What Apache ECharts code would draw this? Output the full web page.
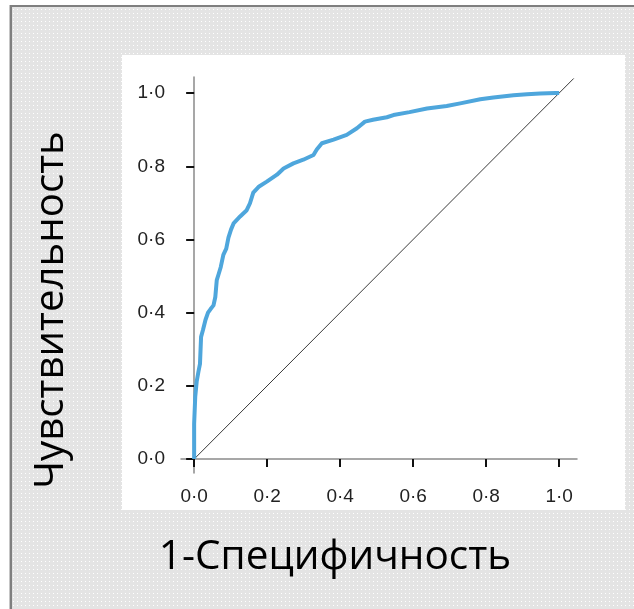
<!DOCTYPE html>
<html>
<head>
<meta charset="utf-8">
<script src="https://cdn.jsdelivr.net/npm/echarts@6/dist/echarts.min.js"></script>
<style>
html,body{margin:0;padding:0;background:#fff;}
#c{width:634px;height:609px;}
</style>
</head>
<body>
<div id="c"></div>
<script>
// ---- data ----
const fpr = [0, 0, 0.003, 0.007, 0.012, 0.016, 0.019, 0.024, 0.031, 0.038, 0.045, 0.053, 0.058, 0.062, 0.067, 0.073, 0.080, 0.088, 0.094, 0.101, 0.108, 0.126, 0.144, 0.153, 0.162, 0.178, 0.199, 0.227, 0.245, 0.272, 0.299, 0.327, 0.336, 0.350, 0.382, 0.418, 0.446, 0.468, 0.490, 0.528, 0.546, 0.590, 0.638, 0.692, 0.729, 0.784, 0.820, 0.875, 0.912, 0.948, 0.990, 1.0];
const tpr = [0, 0.097, 0.170, 0.212, 0.240, 0.260, 0.334, 0.352, 0.380, 0.400, 0.410, 0.420, 0.443, 0.489, 0.505, 0.525, 0.558, 0.575, 0.605, 0.627, 0.644, 0.663, 0.680, 0.699, 0.728, 0.745, 0.758, 0.777, 0.794, 0.808, 0.818, 0.831, 0.846, 0.863, 0.873, 0.886, 0.904, 0.922, 0.927, 0.934, 0.940, 0.948, 0.958, 0.965, 0.972, 0.983, 0.988, 0.994, 0.997, 0.999, 1.0, 1.0];
const refX = [0, 1.04];
const refY = [0, 1.04];
const tickValues = [0, 0.2, 0.4, 0.6, 0.8, 1.0];
const xTitle = '1-Специфичность';
const yTitle = 'Чувствительность';

// ---- helpers ----
function fmt(v){ return v.toFixed(1).replace('.', '\u00B7'); }
const titleFamily = '"Open Sans", "Noto Sans", sans-serif';
function fitSize(text, targetW){
  const cv = document.createElement('canvas');
  const ctx = cv.getContext('2d');
  ctx.font = '100px ' + titleFamily;
  return Math.round(100 * targetW / ctx.measureText(text).width * 10) / 10;
}
function makePattern(){
  const cv = document.createElement('canvas');
  cv.width = 4; cv.height = 4;
  const ctx = cv.getContext('2d');
  ctx.fillStyle = '#e4e4e4';
  ctx.fillRect(0,0,4,4);
  ctx.fillStyle = '#ffffff';
  ctx.fillRect(1,1,1,1);
  return cv;
}

const chart = echarts.init(document.getElementById('c'), null, {renderer:'canvas'});
const pattern = makePattern();
const ySize = fitSize(yTitle, 358);
const xSize = fitSize(xTitle, 352);
const labelFont = '"Liberation Sans", Arial, sans-serif';

const option = {
  backgroundColor: '#ffffff',
  animation: false,
  graphic: { elements: [
    { type:'rect', z:-10, shape:{x:10, y:5, width:624, height:604}, style:{fill:{image:pattern, repeat:'repeat'}} },
    { type:'line', z:-9, shape:{x1:10, y1:6, x2:634, y2:6}, style:{stroke:'#7f7f7f', lineWidth:2} },
    { type:'line', z:-9, shape:{x1:10.8, y1:5, x2:10.8, y2:609}, style:{stroke:'#7f7f7f', lineWidth:2.5} },
    { type:'rect', z:-8, shape:{x:122, y:55, width:503, height:455}, style:{fill:'#ffffff'} },
    { type:'text', z:10, x:52, y:310, rotation:Math.PI/2,
      style:{text:yTitle, fontFamily:titleFamily, fontSize:ySize, fill:'#000', align:'center', verticalAlign:'middle'} },
    { type:'text', z:10, x:335, y:557,
      style:{text:xTitle, fontFamily:titleFamily, fontSize:xSize, fill:'#000', align:'center', verticalAlign:'middle'} }
  ]},
  grid: { left:181, right:57, top:77, bottom:136, containLabel:false },
  xAxis: {
    type:'value', min:-0.036, max:1.049,
    splitLine:{show:false},
    axisLine:{show:true, lineStyle:{color:'#8a8a8a', width:1.5}},
    axisTick:{show:true, customValues:tickValues, length:8, lineStyle:{color:'#111', width:2}},
    axisLabel:{show:true, customValues:tickValues, formatter:fmt, margin:14, color:'#222',
      fontFamily:labelFont, fontSize:19}
  },
  yAxis: {
    type:'value', min:-0.038, max:1.044,
    splitLine:{show:false},
    axisLine:{show:true, lineStyle:{color:'#8a8a8a', width:1.5}},
    axisTick:{show:true, customValues:tickValues, length:8, lineStyle:{color:'#111', width:2}},
    axisLabel:{show:true, customValues:tickValues, formatter:fmt, margin:16, color:'#222',
      fontFamily:labelFont, fontSize:19}
  },
  series: [
    { type:'line', data: refX.map((x,i)=>[x, refY[i]]), showSymbol:false, silent:true,
      lineStyle:{color:'#3a3a3a', width:1}, z:2 },
    { type:'line', data: fpr.map((x,i)=>[x, tpr[i]]), showSymbol:false, silent:true,
      lineStyle:{color:'#4ea6dc', width:4, join:'round'}, z:3 }
  ]
};
chart.setOption(option);
</script>
</body>
</html>
